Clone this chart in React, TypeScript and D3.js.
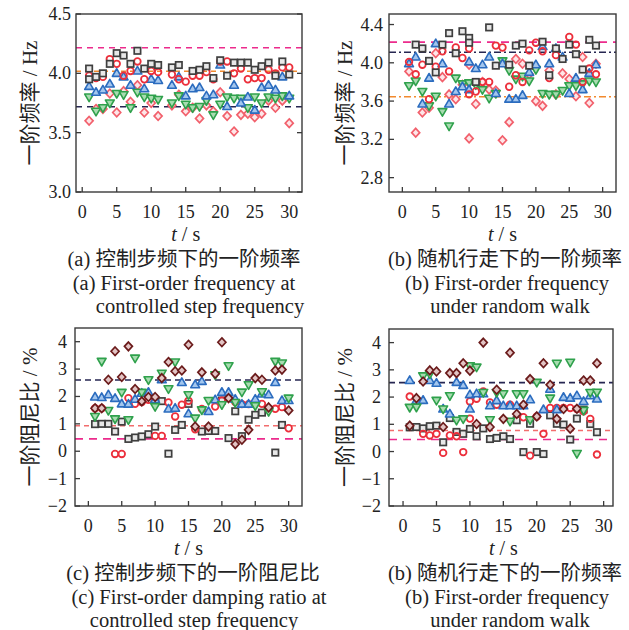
import React from "react";
import * as d3 from "d3";

// ---- panel (a): first-order frequency, controlled step frequency ----
const tA = [1, 2, 3, 4, 5, 6, 7, 8, 9, 10, 11, 13, 14, 15, 16, 17, 18, 19, 20, 21, 22, 23, 24, 25, 26, 27, 28, 29, 30];
const aSquareT = [1, 1, 2, 3, 4, 5, 6, 7, 8, 9, 10, 11, 13, 14, 16, 17, 18, 19, 20, 21, 22, 23, 24, 25, 26, 27, 28, 29, 30];
const aSquareV = [4.04, 3.95, 3.97, 4.0, 4.08, 4.17, 4.15, 4.08, 4.19, 4.04, 4.08, 4.07, 4.05, 4.07, 4.02, 4.03, 4.06, 3.96, 4.11, 3.98, 4.09, 4.09, 4.09, 4.03, 4.06, 4.09, 3.98, 4.1, 3.99];
const aCircleV = [3.98, 3.96, 3.97, 4.12, 4.08, 3.98, 4.02, 4.1, 3.95, 4.02, 4.01, 3.99, 3.95, 3.93, 3.98, 3.98, 4.01, 3.95, 4.1, 4.1, 4.0, 4.04, 3.95, 3.96, 3.96, 4.03, 4.0, 4.05, 4.05];
const aUpV = [3.89, 3.84, 3.86, 3.91, 4.0, 3.97, 3.9, 4.02, 3.87, 3.95, 3.94, 3.9, 3.97, 3.81, 3.87, 3.88, 3.81, 3.82, 4.07, 3.72, 3.9, 3.75, 3.8, 3.69, 3.88, 3.9, 3.86, 3.97, 3.81];
const aDownV = [3.8, 3.68, 3.71, 3.75, 3.83, 3.82, 3.71, 3.84, 3.8, 3.79, 3.78, 3.75, 3.81, 3.74, 3.71, 3.72, 3.77, 3.65, 3.74, 3.8, 3.79, 3.79, 3.71, 3.8, 3.75, 3.8, 3.79, 3.81, 3.79];
const aDiamondV = [3.6, 3.7, 3.7, 3.83, 3.67, 3.85, 3.76, 3.9, 3.67, 3.75, 3.64, 3.73, 3.82, 3.68, 3.71, 3.62, 3.73, 3.68, 3.84, 3.64, 3.51, 3.65, 3.66, 3.63, 3.66, 3.77, 3.71, 3.77, 3.58];
const aRefV = [4.216, 4.017, 3.719];
const aYTicks = [3.0, 3.5, 4.0, 4.5];

// ---- panel (b): first-order frequency, random walk ----
const bSquareT = [2, 3, 4, 5, 6, 7, 8, 9, 10, 10, 11, 13, 14, 16, 17, 18, 19, 21, 22, 23, 24, 25, 26, 27, 28, 29];
const bSquareV = [4.19, 4.15, 4.02, 3.9, 4.19, 4.31, 4.1, 4.33, 4.26, 4.21, 3.8, 4.37, 3.97, 3.98, 4.18, 4.2, 3.97, 4.22, 3.87, 4.15, 4.04, 4.19, 4.09, 3.93, 4.24, 4.18];
const bCircleT = [1, 2, 3, 4, 5, 6, 7, 8, 9, 10, 10, 11, 12, 13, 14, 15, 16, 17, 18, 19, 20, 21, 22, 23, 25, 26, 27, 28, 29];
const bCircleV = [4.01, 3.88, 3.98, 3.62, 3.96, 4.12, 3.91, 4.16, 4.05, 4.15, 3.67, 3.7, 3.8, 3.8, 4.18, 4.16, 3.75, 3.87, 3.8, 4.13, 4.21, 4.12, 3.84, 4.08, 4.27, 4.19, 3.8, 3.94, 3.88];
const bUpT = [1, 2, 3, 4, 5, 6, 7, 8, 9, 10, 10, 11, 12, 13, 14, 15, 16, 17, 18, 19, 20, 21, 22, 23, 24, 25, 26, 27, 28, 29];
const bUpV = [3.99, 4.06, 3.57, 3.84, 4.2, 3.99, 3.57, 3.7, 3.75, 4.01, 3.72, 3.94, 3.98, 4.06, 3.68, 3.99, 3.62, 3.62, 3.66, 3.9, 3.98, 4.17, 3.99, 4.15, 4.06, 3.68, 3.84, 3.72, 3.89, 3.98];
const bDownT = [1, 2, 3, 4, 5, 6, 7, 8, 9, 10, 11, 12, 13, 14, 15, 16, 17, 18, 19, 20, 21, 22, 23, 24, 25, 26, 27, 28, 29];
const bDownV = [3.76, 3.81, 3.7, 3.55, 3.65, 3.49, 3.34, 3.84, 3.78, 3.79, 3.77, 3.72, 3.63, 3.68, 4.02, 3.92, 3.83, 3.86, 3.81, 3.93, 3.68, 3.67, 3.67, 3.71, 3.76, 3.76, 3.78, 3.81, 3.8];
const bDiamondT = [1, 2, 3, 4, 5, 6, 7, 8, 9, 10, 10, 11, 12, 13, 14, 15, 16, 17, 18, 19, 20, 21, 22, 23, 24, 25, 26, 27, 28, 29];
const bDiamondV = [3.91, 3.27, 3.48, 3.53, 4.1, 3.85, 3.67, 3.62, 3.77, 3.98, 3.21, 3.57, 3.8, 3.72, 3.71, 3.19, 3.38, 4.04, 3.99, 3.88, 3.6, 3.55, 3.92, 3.67, 3.89, 3.83, 3.65, 4.06, 3.58, 3.99];
const bRefV = [4.216, 4.11, 3.645];
const bYTicks = [2.8, 3.2, 3.6, 4.0, 4.4];

// ---- panel (c): first-order damping ratio, controlled step frequency ----
const tC = d3.range(1, 31);
const cMaroonV = [1.57, 1.57, 2.61, 3.65, 2.71, 3.83, 2.27, 1.82, 1.98, 1.98, 2.67, 3.26, 2.92, 2.95, 3.89, 0.9, 2.88, 0.9, 2.83, 3.98, 1.94, 0.26, 0.42, 0.78, 2.67, 2.61, 1.6, 2.95, 2.98, 1.49];
const cDownV = [1.27, 3.28, 1.49, 1.18, 2.15, 1.15, 3.4, 2.15, 2.61, 1.63, 2.85, 2.28, 3.26, null, 2.06, 1.21, 1.51, 1.85, 2.79, 1.7, 3.12, 1.78, 2.16, 2.43, 1.66, 2.17, 1.45, 3.28, 3.22, 1.94];
const cUpV = [1.98, 1.96, 2.06, 1.93, 1.73, 1.72, 1.9, 2.12, 2.15, 1.88, 2.61, 1.54, 1.57, 2.51, 1.37, 2.43, 2.55, 1.45, 1.88, 2.15, 2.15, 1.9, 1.72, 1.72, 1.9, 2.09, 2.06, 2.51, 1.85, 1.85];
const cCircleV = [1.57, 1.57, null, -0.1, -0.1, 1.94, 1.73, 1.8, 1.88, 0.56, 0.56, 1.78, 1.27, 1.7, 1.84, 0.8, 1.54, null, 1.63, 1.85, 1.94, 1.8, 1.72, 1.72, 1.75, 1.73, 1.55, 1.55, 1.61, 0.84];
const cSquareV = [0.99, 1.0, 1.0, 0.72, 1.08, 0.45, 0.5, 0.54, 0.62, 0.9, 1.83, -0.09, 0.78, 0.96, 1.73, null, 0.72, 0.74, 0.74, 1.85, 0.48, 1.46, 0.55, 1.15, 1.33, 1.41, null, -0.05, 0.96, null];
const cRefV = [2.6, 0.93, 0.45];
const dampTicks = [-2, -1, 0, 1, 2, 3, 4];

// ---- panel (d): first-order damping ratio, random walk ----
const tD = d3.range(1, 30);
const tDTwice = [1, 2, 3, 4, 5, 6, 7, 8, 9, 10, 10, 11, 12, 13, 14, 15, 16, 17, 18, 19, 20, 21, 22, 23, 24, 25, 26, 27, 28, 29];
const dMaroonV = [0.95, 1.96, 2.57, 2.98, 2.94, 0.9, 2.88, 2.88, 3.24, 2.97, 1.01, 4.0, 0.9, 2.27, 1.2, 3.63, 1.38, 1.72, 2.66, 1.29, 3.24, 2.45, 1.2, 1.56, 0.84, 1.57, 2.61, 2.61, 3.24];
const dDownV = [1.62, 1.63, 2.78, 2.85, 1.88, 1.56, 2.05, 1.15, 1.2, 3.15, 3.1, 2.17, 1.17, 2.17, 2.12, 1.11, 2.12, 2.12, 1.17, 2.54, null, 1.96, 3.24, null, 3.28, -0.07, 1.51, 2.17, 2.18];
const dUpV = [2.61, 1.87, 1.88, 2.61, 2.51, 1.56, 1.38, 2.54, 2.43, 1.56, 2.09, 2.12, 2.12, 1.68, 1.87, 1.68, 1.68, 1.68, 1.68, 1.9, null, 1.54, 2.29, 1.54, 1.99, 1.96, 2.05, 1.84, 2.05, 1.93];
const dCircleV = [2.02, null, 0.65, 0.59, 0.65, -0.05, 0.59, 0.56, -0.02, 1.21, 1.84, 1.94, 2.21, 1.8, 1.72, null, 1.72, null, 1.26, -0.15, 1.29, 0.65, 1.6, 1.6, 1.6, 1.6, 1.56, 1.48, 1.2, -0.11];
const dSquareV = [0.89, 0.9, 0.85, 0.93, 0.95, 0.34, 1.23, 0.72, 0.65, 0.83, 0.56, 0.85, 0.46, 0.5, 0.56, 0.46, 1.15, -0.02, 1.02, -0.02, -0.09, 1.33, 1.02, 0.99, 0.44, 1.21, 1.54, 1.01, 0.71];
const dRefV = [2.53, 0.77, 0.44];

const xTicks = [0, 5, 10, 15, 20, 25, 30];

const SERIF = "'Liberation Serif', 'Times New Roman', serif";
const MIXED = "'Liberation Serif', 'Noto Sans CJK SC', serif";

const PINK = "#ec2b8c";
const ORANGE = "#f28a2e";
const NAVY = "#262652";
const SALMON = "#f26d6d";

type Shape = "square" | "circle" | "up" | "down" | "diamond" | "maroon";
type Series = { shape: Shape; t: number[]; v: (number | null)[] };
type Ref = { v: number; color: string; dash: string };

function Marker({ shape, x, y }: { shape: Shape; x: number; y: number }) {
  const tr = `translate(${x},${y})`;
  if (shape === "square")
    return <rect x={x - 3.2} y={y - 3.2} width={6.4} height={6.4} fill="#e8e8e8" stroke="#3f3f3f" strokeWidth={1.7} />;
  if (shape === "circle")
    return <circle cx={x} cy={y} r={3.3} fill="none" stroke="#ec2f3b" strokeWidth={1.8} />;
  if (shape === "up")
    return <path transform={tr} d="M0,-4.6L4.4,3L-4.4,3Z" fill="#a3c6ee" stroke="#2b6cbf" strokeWidth={1.6} strokeLinejoin="round" />;
  if (shape === "down")
    return <path transform={tr} d="M0,4.6L4.4,-3L-4.4,-3Z" fill="#a8dcb0" stroke="#2fa14c" strokeWidth={1.6} strokeLinejoin="round" />;
  if (shape === "diamond")
    return <path transform={tr} d="M0,-4.3L4,0L0,4.3L-4,0Z" fill="#fde6e8" stroke="#f2606c" strokeWidth={1.7} />;
  return <path transform={tr} d="M0,-4.3L4,0L0,4.3L-4,0Z" fill="#e2c4c4" stroke="#6b1b1b" strokeWidth={1.7} />;
}

type PanelProps = {
  left: number; right: number; top: number; bottom: number;
  xDomain: [number, number]; yDomain: [number, number];
  yTicks: number[]; yFmt: (v: number) => string; yLabelGap: number;
  series: Series[]; refs: Ref[];
  ylabel: string; ylabelX: number;
  rightTicks?: boolean;
  captions: { text: string; cx: number }[];
};

function Panel(p: PanelProps) {
  const x = d3.scaleLinear().domain(p.xDomain).range([p.left, p.right]);
  const y = d3.scaleLinear().domain(p.yDomain).range([p.bottom, p.top]);
  const midY = (p.top + p.bottom) / 2;
  const midX = (x(0) + x(30)) / 2;
  return (
    <g>
      {p.refs.map((r, i) => (
        <line key={"r" + i} x1={p.left} x2={p.right} y1={y(r.v)} y2={y(r.v)} stroke={r.color} strokeWidth={1.6} strokeDasharray={r.dash} />
      ))}
      {p.series.map((s, si) =>
        s.v.map((v, i) =>
          v == null ? null : <Marker key={si + "-" + i} shape={s.shape} x={x(s.t[i])} y={y(v)} />
        )
      )}
      <rect x={p.left} y={p.top} width={p.right - p.left} height={p.bottom - p.top} fill="none" stroke="#3a3a3a" strokeWidth={1.4} />
      {xTicks.map((t) => (
        <g key={"x" + t}>
          <line x1={x(t)} x2={x(t)} y1={p.bottom} y2={p.bottom - 5} stroke="#3a3a3a" strokeWidth={1.3} />
          <text x={x(t)} y={p.bottom + 26} textAnchor="middle" fontFamily={SERIF} fontSize={18} fill="#222">{t}</text>
        </g>
      ))}
      {p.yTicks.map((t) => (
        <g key={"y" + t}>
          <line x1={p.left} x2={p.left + 5} y1={y(t)} y2={y(t)} stroke="#3a3a3a" strokeWidth={1.3} />
          {p.rightTicks && <line x1={p.right} x2={p.right - 5} y1={y(t)} y2={y(t)} stroke="#3a3a3a" strokeWidth={1.3} />}
          <text x={p.left - p.yLabelGap} y={y(t) + 6} textAnchor="end" fontFamily={SERIF} fontSize={18} fill="#222">{p.yFmt(t)}</text>
        </g>
      ))}
      <text transform={`translate(${p.ylabelX},${midY}) rotate(-90)`} textAnchor="middle" dominantBaseline="central" fontFamily={MIXED} fontSize={21} fill="#222">{p.ylabel}</text>
      <text x={midX} y={p.bottom + 49} textAnchor="middle" fontFamily={SERIF} fontSize={20} fill="#222">
        <tspan fontStyle="italic">t</tspan> / s
      </text>
      {p.captions.map((c, i) => (
        <text key={"c" + i} x={c.cx} y={p.bottom + 74 + i * 23.5} textAnchor="middle" fontFamily={MIXED} fontSize={20.5} fill="#222">{c.text}</text>
      ))}
    </g>
  );
}

const fmt1 = d3.format(".1f");
const fmtInt = d3.format("d");

export default function App() {
  const aSeries: Series[] = [
    { shape: "diamond", t: tA, v: aDiamondV },
    { shape: "down", t: tA, v: aDownV },
    { shape: "up", t: tA, v: aUpV },
    { shape: "circle", t: tA, v: aCircleV },
    { shape: "square", t: aSquareT, v: aSquareV },
  ];
  const bSeries: Series[] = [
    { shape: "diamond", t: bDiamondT, v: bDiamondV },
    { shape: "down", t: bDownT, v: bDownV },
    { shape: "up", t: bUpT, v: bUpV },
    { shape: "circle", t: bCircleT, v: bCircleV },
    { shape: "square", t: bSquareT, v: bSquareV },
  ];
  const cSeries: Series[] = [
    { shape: "square", t: tC, v: cSquareV },
    { shape: "circle", t: tC, v: cCircleV },
    { shape: "up", t: tC, v: cUpV },
    { shape: "down", t: tC, v: cDownV },
    { shape: "maroon", t: tC, v: cMaroonV },
  ];
  const dSeries: Series[] = [
    { shape: "square", t: tD, v: dSquareV },
    { shape: "circle", t: tDTwice, v: dCircleV },
    { shape: "up", t: tDTwice, v: dUpV },
    { shape: "down", t: tD, v: dDownV },
    { shape: "maroon", t: tD, v: dMaroonV },
  ];

  return (
    <svg width={629} height={630} style={{ position: "absolute", left: 0, top: 0, background: "#fff" }}>
      <Panel
        left={76} right={302} top={14} bottom={192}
        xDomain={[-0.9, 31.85]} yDomain={[3.0, 4.5]}
        yTicks={aYTicks} yFmt={fmt1} yLabelGap={5}
        series={aSeries}
        refs={[
          { v: aRefV[0], color: PINK, dash: "6,5" },
          { v: aRefV[1], color: ORANGE, dash: "5,4" },
          { v: aRefV[2], color: NAVY, dash: "6,5" },
        ]}
        ylabel="一阶频率 / Hz" ylabelX={30} rightTicks
        captions={[
          { text: "(a) 控制步频下的一阶频率", cx: 184 },
          { text: "(a) First-order frequency at", cx: 184 },
          { text: "controlled step frequency", cx: 200 },
        ]}
      />
      <Panel
        left={389} right={616} top={14} bottom={192}
        xDomain={[-2, 32]} yDomain={[2.65, 4.51]}
        yTicks={bYTicks} yFmt={fmt1} yLabelGap={6}
        series={bSeries}
        refs={[
          { v: bRefV[0], color: PINK, dash: "8,6" },
          { v: bRefV[1], color: NAVY, dash: "7,3,2,3" },
          { v: bRefV[2], color: ORANGE, dash: "7,3,2,3" },
        ]}
        ylabel="一阶频率 / Hz" ylabelX={345}
        captions={[
          { text: "(b) 随机行走下的一阶频率", cx: 505 },
          { text: "(b) First-order frequency", cx: 507 },
          { text: "under random walk", cx: 510 },
        ]}
      />
      <Panel
        left={75} right={302} top={328} bottom={506}
        xDomain={[-2, 32]} yDomain={[-2, 4.5]}
        yTicks={dampTicks} yFmt={fmtInt} yLabelGap={8}
        series={cSeries}
        refs={[
          { v: cRefV[0], color: NAVY, dash: "6,4" },
          { v: cRefV[1], color: SALMON, dash: "5,4" },
          { v: cRefV[2], color: PINK, dash: "8,6" },
        ]}
        ylabel="一阶阻尼比 / %" ylabelX={30}
        captions={[
          { text: "(c) 控制步频下的一阶阻尼比", cx: 193 },
          { text: "(c) First-order damping ratio at", cx: 199 },
          { text: "controlled step frequency", cx: 194 },
        ]}
      />
      <Panel
        left={389} right={613} top={329} bottom={506}
        xDomain={[-2.1, 31.4]} yDomain={[-2, 4.5]}
        yTicks={dampTicks} yFmt={fmtInt} yLabelGap={8}
        series={dSeries}
        refs={[
          { v: dRefV[0], color: NAVY, dash: "6,4" },
          { v: dRefV[1], color: SALMON, dash: "5,4" },
          { v: dRefV[2], color: PINK, dash: "8,6" },
        ]}
        ylabel="一阶阻尼比 / %" ylabelX={345}
        captions={[
          { text: "(b) 随机行走下的一阶频率", cx: 505 },
          { text: "(b) First-order frequency", cx: 507 },
          { text: "under random walk", cx: 510 },
        ]}
      />
    </svg>
  );
}
